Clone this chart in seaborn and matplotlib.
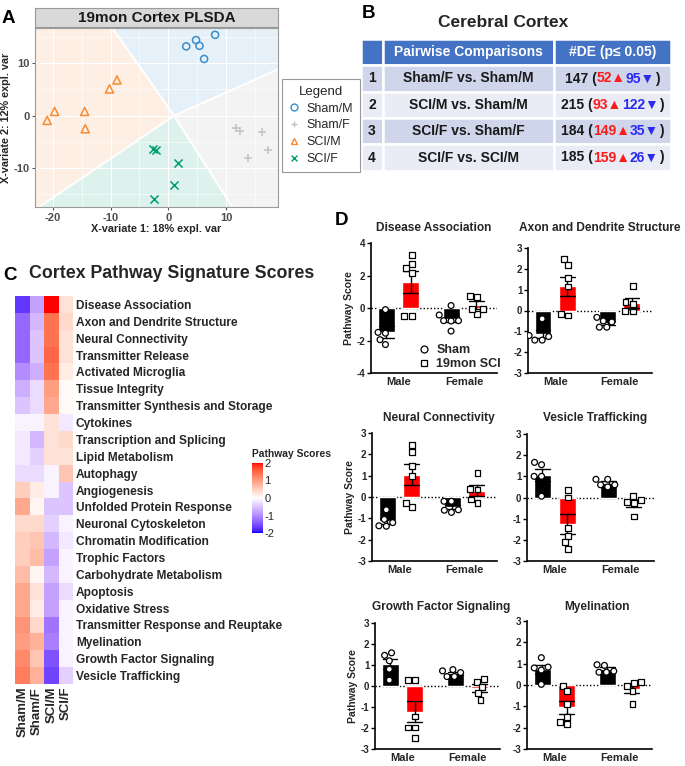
import numpy as np
import pandas as pd
import matplotlib
matplotlib.use("Agg")
import matplotlib.pyplot as plt
import seaborn as sns
from matplotlib.lines import Line2D
from matplotlib.patches import Rectangle
from matplotlib.colors import ListedColormap

sns.set_theme(style="white")
plt.rcParams['font.family'] = ['Liberation Sans', 'DejaVu Sans']
plt.rcParams['axes.unicode_minus'] = False

W, H = 685, 766

# ---------------- A: PLSDA scores
groups = ["Sham/M", "Sham/F", "SCI/M", "SCI/F"]
group_colors = ["#388ECC", "#C2C2C2", "#F68B33", "#009E73"]
group_markers = ["o", "+", "^", "x"]
sham_m_x = [3.1, 4.8, 5.4, 8.1, 6.2]
sham_m_y = [13.2, 14.4, 13.3, 15.4, 10.8]
sham_f_x = [11.8, 12.4, 16.2, 17.3, 13.8]
sham_f_y = [-2.3, -3.0, -3.2, -6.5, -8.1]
sci_m_x = [-21.0, -19.7, -14.5, -14.4, -10.2, -8.9]
sci_m_y = [-0.9, 0.8, 0.8, -2.5, 5.1, 6.8]
sci_f_x = [-2.6, -2.1, 1.6, 1.0, -2.5]
sci_f_y = [-6.3, -6.6, -9.1, -13.2, -15.9]
# point where the four prediction areas meet
bg_junction = [1.0, 0.0]

# ---------------- B: DE table
comparisons = ["Sham/F vs. Sham/M", "SCI/M vs. Sham/M", "SCI/F vs. Sham/F", "SCI/F vs. SCI/M"]
de_total = [147, 215, 184, 185]
de_up = [52, 93, 149, 159]
de_down = [95, 122, 35, 26]

# ---------------- C: pathway heatmap
pathways = ["Disease Association", "Axon and Dendrite Structure", "Neural Connectivity",
            "Transmitter Release", "Activated Microglia", "Tissue Integrity",
            "Transmitter Synthesis and Storage", "Cytokines", "Transcription and Splicing",
            "Lipid Metabolism", "Autophagy", "Angiogenesis", "Unfolded Protein Response",
            "Neuronal Cytoskeleton", "Chromatin Modification", "Trophic Factors",
            "Carbohydrate Metabolism", "Apoptosis", "Oxidative Stress",
            "Transmitter Response and Reuptake", "Myelination", "Growth Factor Signaling",
            "Vesicle Trafficking"]
score_sham_m = [-1.7, -1.3, -1.3, -1.3, -1.0, -0.7, -0.5, -0.1, -0.2, -0.2, -0.3, 0.5,
                0.9, 0.4, 0.5, 0.5, 0.7, 0.9, 0.9, 1.1, 1.0, 1.2, 1.3]
score_sham_f = [-0.8, -0.6, -0.5, -0.5, -0.7, -0.3, -0.3, -0.1, -0.6, -0.4, -0.3, 0.2,
                0.1, 0.4, 0.6, 0.7, 0.1, 0.3, 0.2, 0.4, 0.8, 0.6, 0.8]
score_sci_m = [2.0, 1.4, 1.4, 1.5, 1.4, 1.0, 0.9, 0.3, 0.3, 0.3, -0.1, -0.1,
               -0.5, -0.4, -0.6, -0.8, -0.6, -0.8, -0.8, -1.2, -1.1, -1.5, -1.6]
score_sci_f = [0.3, 0.4, 0.3, 0.3, 0.2, 0.05, 0.05, -0.2, 0.4, 0.3, 0.6, -0.5,
               -0.5, -0.1, -0.2, -0.1, -0.1, -0.3, -0.1, -0.1, -0.1, -0.1, -0.4]
heat_cols = ["Sham/M", "Sham/F", "SCI/M", "SCI/F"]

# ---------------- D: per-animal pathway scores [male sham, male SCI, female sham, female SCI]
dis_assoc = [[-0.1, -1.55, -1.5, -2.25, -1.95], [3.26, 2.69, 2.44, 2.17, -0.47, -0.47],
             [0.15, -0.43, -0.78, -0.8, -0.78, -1.42], [0.66, 0.76, -0.37, -0.08, -0.08]]
axon_dend = [[-0.4, -1.42, -1.25, -1.42, -1.2], [2.46, 2.18, 1.55, 1.15, -0.24, -0.16],
             [-0.33, -0.55, -0.5, -0.8, -0.8], [1.18, 0.3, 0.4, -0.05, -0.03]]
neural_conn = [[-0.6, -1.37, -1.2, -1.05, -1.35], [2.45, 2.1, 1.45, 1.0, -0.45, -0.28],
               [-0.2, -0.2, -0.72, -0.6, -0.62], [1.14, 0.35, 0.39, -0.3, -0.12]]
vesicle = [[1.66, 1.55, 1.0, 0.06, 1.0], [0.37, 0.0, -1.45, -1.81, -2.12, -2.43],
           [0.86, 0.86, 0.6, 0.6, 0.5], [-0.12, 0.08, -0.25, -0.9, -0.2]]
growth = [[1.58, 1.46, 1.2, 0.8, 0.28], [0.28, 0.28, -1.45, -1.98, -1.98, -2.48],
          [0.72, 0.78, 0.64, 0.45, 0.45], [0.33, 0.2, -0.06, -0.35, -0.67]]
myelin = [[1.28, 0.84, 0.7, 0.8, 0.03], [-0.04, -0.3, -0.9, -1.5, -1.84, -1.73],
          [0.95, 0.92, 0.6, 0.6, 0.65], [0.15, 0.08, -0.05, -0.28, -0.9]]
sexes = ["Male", "Female"]
conds = ["Sham", "SCI"]


# blue-white-red ramp interpolated in Lab space (like R colorRampPalette(space="Lab"))
def to_lab(rgb):
    c = np.asarray(rgb, float)
    c = np.where(c > 0.04045, ((c + 0.055) / 1.055) ** 2.4, c / 12.92)
    M = np.array([[0.4124, 0.3576, 0.1805], [0.2126, 0.7152, 0.0722], [0.0193, 0.1192, 0.9505]])
    xyz = M @ c / np.array([0.95047, 1.0, 1.08883])
    f = np.where(xyz > 0.008856, np.cbrt(xyz), 7.787 * xyz + 16 / 116)
    return np.array([116 * f[1] - 16, 500 * (f[0] - f[1]), 200 * (f[1] - f[2])])


def from_lab(lab):
    L, a, b = lab
    fy = (L + 16) / 116
    f = np.array([fy + a / 500, fy, fy - b / 200])
    xyz = np.where(f > 0.2069, f ** 3, (f - 16 / 116) / 7.787) * np.array([0.95047, 1.0, 1.08883])
    Minv = np.array([[3.2406, -1.5372, -0.4986], [-0.9689, 1.8758, 0.0415], [0.0557, -0.2040, 1.0570]])
    c = Minv @ xyz
    c = np.where(c > 0.0031308, 1.055 * np.clip(c, 0, None) ** (1 / 2.4) - 0.055, 12.92 * c)
    return np.clip(c, 0, 1)


anchors = [to_lab(c) for c in [(0, 0, 1), (1, 1, 1), (1, 0, 0)]]
ramp = []
for t in np.linspace(0, 1, 256):
    seg = 0 if t < 0.5 else 1
    u = t * 2 - seg
    ramp.append(from_lab(anchors[seg] * (1 - u) + anchors[seg + 1] * u))
lab_bwr = ListedColormap(ramp)

fig = plt.figure(figsize=(W / 100, H / 100), dpi=100)


def px_axes(x0, y0, x1, y1):
    return fig.add_axes([x0 / W, 1 - y1 / H, (x1 - x0) / W, (y1 - y0) / H])


# overlay in pixel coords for letters / table
ov = fig.add_axes([0, 0, 1, 1], zorder=-1)
ov.set_xlim(0, W)
ov.set_ylim(H, 0)
ov.axis("off")
for letter, x, y in [("A", 2, 23), ("B", 362, 18), ("C", 3, 280), ("D", 335, 225)]:
    ov.text(x, y, letter, fontsize=13.5, fontweight="bold", va="baseline", color="black")

# ================= Panel A
axA = px_axes(35, 28, 278, 207)
xlo, xhi, ylo, yhi = -23.1, 19.0, -17.4, 16.7
xs = [sham_m_x, sham_f_x, sci_m_x, sci_f_x]
ys = [sham_m_y, sham_f_y, sci_m_y, sci_f_y]
jx, jy = bg_junction
cents = np.array([[np.mean(a), np.mean(b)] for a, b in zip(xs, ys)])
dirs = cents - np.array(bg_junction)
dirs = dirs / np.linalg.norm(dirs, axis=1, keepdims=True)
gx, gy = np.meshgrid(np.linspace(xlo, xhi, 600), np.linspace(ylo, yhi, 600))
lab = np.stack([(gx - jx) * u[0] + (gy - jy) * u[1] for u in dirs]).argmax(0)
light = np.array([np.array(matplotlib.colors.to_rgb(c)) * 0.13 + 0.87 for c in group_colors])
light[1] = [0.955, 0.955, 0.955]
axA.imshow(light[lab], extent=[xlo, xhi, ylo, yhi], origin="lower", aspect="auto",
           zorder=0, interpolation="nearest")
for k in range(4):
    axA.contour(gx, gy, (lab == k).astype(float), levels=[0.5], colors="white",
                linewidths=1.2, zorder=0.3)
for g, c, m, x, y in zip(groups, group_colors, group_markers, xs, ys):
    sns.scatterplot(x=x, y=y, marker=m, color=c, s=34 if m != "o" else 26, ax=axA,
                    linewidth=1.1, zorder=3)
    pc = axA.collections[-1]
    pc.set_edgecolors(c)
    if m in ("o", "^"):
        pc.set_facecolors("none")
axA.set_xlim(xlo, xhi)
axA.set_ylim(ylo, yhi)
axA.set_xticks([-20, -10, 0, 10])
axA.set_yticks([-10, 0, 10])
axA.set_xticks([-15, -5, 5, 15], minor=True)
axA.set_yticks([-15, -5, 5, 15], minor=True)
axA.set_axisbelow(True)
axA.grid(which="major", color="white", lw=0.8)
axA.grid(which="minor", color="white", lw=0.4)
axA.tick_params(which="major", length=2.5, width=0.8, color="#555555", labelsize=8,
                labelcolor="#4D4D4D", pad=1.5, bottom=True, left=True)
axA.tick_params(which="minor", length=0)
for t in axA.get_xticklabels() + axA.get_yticklabels():
    t.set_fontweight("bold")
for s in axA.spines.values():
    s.set_color("#9A9A9A")
    s.set_linewidth(0.8)
axA.set_xlabel("X-variate 1: 18% expl. var", fontsize=7.8, fontweight="bold", labelpad=1)
axA.set_ylabel("X-variate 2: 12% expl. var", fontsize=7.8, fontweight="bold", labelpad=2)

strip = px_axes(35, 8, 278, 27)
strip.set_facecolor("#D9D9D9")
strip.set_xticks([])
strip.set_yticks([])
for s in strip.spines.values():
    s.set_color("#9A9A9A")
    s.set_linewidth(0.8)
strip.text(0.5, 0.45, "19mon Cortex PLSDA", ha="center", va="center", fontsize=11,
           fontweight="bold", color="#1A1A1A", transform=strip.transAxes)

handles = [Line2D([], [], ls="", marker=m, mec=c, mfc="none", ms=5, mew=1)
           for c, m in zip(group_colors, group_markers)]
leg = fig.legend(handles, groups, title="Legend", loc="upper left",
                 bbox_to_anchor=(282 / W, 1 - 79 / H), fontsize=9, title_fontsize=9.5,
                 frameon=True, fancybox=False, edgecolor="#7F7F7F", handlelength=0.8,
                 handletextpad=0.6, labelspacing=0.38, borderpad=0.55, borderaxespad=0)
leg.get_frame().set_linewidth(0.8)

# ================= Panel B
ov.text(503, 27, "Cerebral Cortex", ha="center", va="baseline", fontsize=12.5,
        fontweight="bold")
col_edges = [361, 383, 554, 671]
row_edges = [39, 65, 92, 118, 144, 171]
row_fill = ["#4472C4", "#CFD5EA", "#E9EBF5", "#CFD5EA", "#E9EBF5"]
for r in range(5):
    for c in range(3):
        ov.add_patch(Rectangle((col_edges[c], row_edges[r]), col_edges[c + 1] - col_edges[c],
                               row_edges[r + 1] - row_edges[r], facecolor=row_fill[r],
                               edgecolor="white", lw=1.8))
col_mid = [(col_edges[i] + col_edges[i + 1]) / 2 for i in range(3)]
row_mid = [(row_edges[i] + row_edges[i + 1]) / 2 for i in range(5)]
tkw = dict(fontsize=10, fontweight="bold", va="center")
ov.text(col_mid[1], row_mid[0], "Pairwise Comparisons", ha="center", color="white", **tkw)
ov.text(col_mid[2], row_mid[0], "#DE (p\u2264 0.05)", ha="center", color="white", **tkw)

renderer = fig.canvas.get_renderer()
for i in range(4):
    y = row_mid[i + 1]
    ov.text(col_mid[0], y, str(i + 1), ha="center", color="#1A1A1A", **tkw)
    ov.text(col_mid[1], y, comparisons[i], ha="center", color="#1A1A1A", **tkw)
    parts = [(f"{de_total[i]} (", "#1A1A1A"), (f"{de_up[i]}\u25B2", "#FF1A1A"),
             (f"{de_down[i]}\u25BC", "#2B2BF0"), (")", "#1A1A1A")]
    texts = [ov.text(0, y, s, color=c, ha="left", **tkw) for s, c in parts]
    widths = [t.get_window_extent(renderer).width for t in texts]
    cur = col_mid[2] - sum(widths) / 2
    for t, w in zip(texts, widths):
        t.set_x(cur)
        cur += w

# ================= Panel C
ov.text(29, 278, "Cortex Pathway Signature Scores", ha="left", va="baseline",
        fontsize=12.8, fontweight="bold")
heat_df = pd.DataFrame({"Sham/M": score_sham_m, "Sham/F": score_sham_f,
                        "SCI/M": score_sci_m, "SCI/F": score_sci_f}, index=pathways)
axC = px_axes(15, 296, 73, 684)
cax = px_axes(252, 463, 263, 533)
sns.heatmap(heat_df[heat_cols], cmap=lab_bwr, vmin=-2, vmax=2, ax=axC, cbar_ax=cax,
            linewidths=0, xticklabels=True, yticklabels=True)
axC.yaxis.tick_right()
axC.set_yticks(np.arange(len(pathways)) + 0.5)
axC.set_yticklabels(pathways, rotation=0, ha="left", fontsize=8.6, fontweight="bold")
axC.set_xticks(np.arange(len(heat_cols)) + 0.5)
axC.set_xticklabels(heat_cols, rotation=90, fontsize=9.5, fontweight="bold")
axC.tick_params(axis="y", length=0, pad=2)
axC.tick_params(axis="x", length=0, pad=2)
axC.set_xlabel("")
axC.set_ylabel("")
cax.set_yticks([-2, -1, 0, 1, 2])
cax.tick_params(axis="y", length=2.5, width=0.8, color="white", direction="in",
                left=True, right=True, pad=1, labelsize=8)
cax.set_title("Pathway Scores", fontsize=7.4, fontweight="bold", loc="left", pad=4)

# ================= Panel D
bar_pal = {"Sham": "black", "SCI": "#FF0000"}
panels = [
    (dis_assoc, "Disease Association", (371, 243, 497, 373), (-4, 4), [-4, -2, 0, 2, 4], True, (434, 228)),
    (axon_dend, "Axon and Dendrite Structure", (528, 248, 652, 373), (-3, 3), range(-3, 4), False, (600, 228)),
    (neural_conn, "Neural Connectivity", (372, 433, 497, 561), (-3, 3), range(-3, 4), True, (439, 418)),
    (vesicle, "Vesicle Trafficking", (527, 434, 654, 561), (-3, 3), range(-3, 4), False, (595, 418)),
    (growth, "Growth Factor Signaling", (375, 623, 500, 749), (-3, 3), range(-3, 4), True, (441, 607)),
    (myelin, "Myelination", (527, 621, 652, 749), (-3, 3), range(-3, 4), False, (597, 607)),
]
combos = [("Male", "Sham"), ("Male", "SCI"), ("Female", "Sham"), ("Female", "SCI")]
for vals, title, box, ylim, yt, show_ylab, tpos in panels:
    ax = px_axes(*box)
    rows = [(sx, cd, v) for (sx, cd), vv in zip(combos, vals) for v in vv]
    df = pd.DataFrame(rows, columns=["sex", "cond", "score"])
    ax.axhline(0, ls=(0, (1, 1.5)), color="black", lw=1, zorder=0.5)
    sns.barplot(data=df, x="sex", y="score", hue="cond", order=sexes, hue_order=conds,
                palette=bar_pal, errorbar="se", capsize=0.45, width=0.75, gap=0.3,
                err_kws={"color": "black", "linewidth": 1}, saturation=1, legend=False, ax=ax)
    for cd, m in zip(conds, ["o", "s"]):
        sns.swarmplot(data=df[df.cond == cd], x="sex", y="score", hue="cond", order=sexes,
                      hue_order=conds, dodge=True, marker=m, size=4.2,
                      palette={"Sham": "white", "SCI": "white"}, edgecolor="black",
                      linewidth=0.9, legend=False, ax=ax, zorder=4)
    ax.set_xlim(-0.42, 1.5)
    ax.set_ylim(*ylim)
    ax.set_yticks(list(yt))
    sns.despine(ax=ax)
    for sp in ("left", "bottom"):
        ax.spines[sp].set_color("black")
        ax.spines[sp].set_linewidth(1.2)
    ax.tick_params(axis="y", length=3, width=1, labelsize=7, pad=1, left=True, color="black")
    ax.tick_params(axis="x", length=0, labelsize=8, pad=3)
    for t in ax.get_xticklabels() + ax.get_yticklabels():
        t.set_fontweight("bold")
    ax.set_xlabel("")
    ax.set_ylabel("Pathway Score" if show_ylab else "", fontsize=7.5, fontweight="bold",
                  labelpad=2)
    ov.text(tpos[0], tpos[1], title, ha="center", va="center", fontsize=8.6, fontweight="bold")
    if title == "Disease Association":
        lh = [Line2D([], [], ls="", marker="o", mfc="white", mec="black", ms=5, mew=0.9),
              Line2D([], [], ls="", marker="s", mfc="white", mec="black", ms=5, mew=0.9)]
        lg = ax.legend(lh, ["Sham", "19mon SCI"], loc="upper left",
                       bbox_to_anchor=(0.33, 0.27), frameon=False, handlelength=0.8,
                       handletextpad=0.6, labelspacing=0.15, borderpad=0,
                       prop={"size": 9, "weight": "bold"})

fig.savefig("out.png", dpi=100)
